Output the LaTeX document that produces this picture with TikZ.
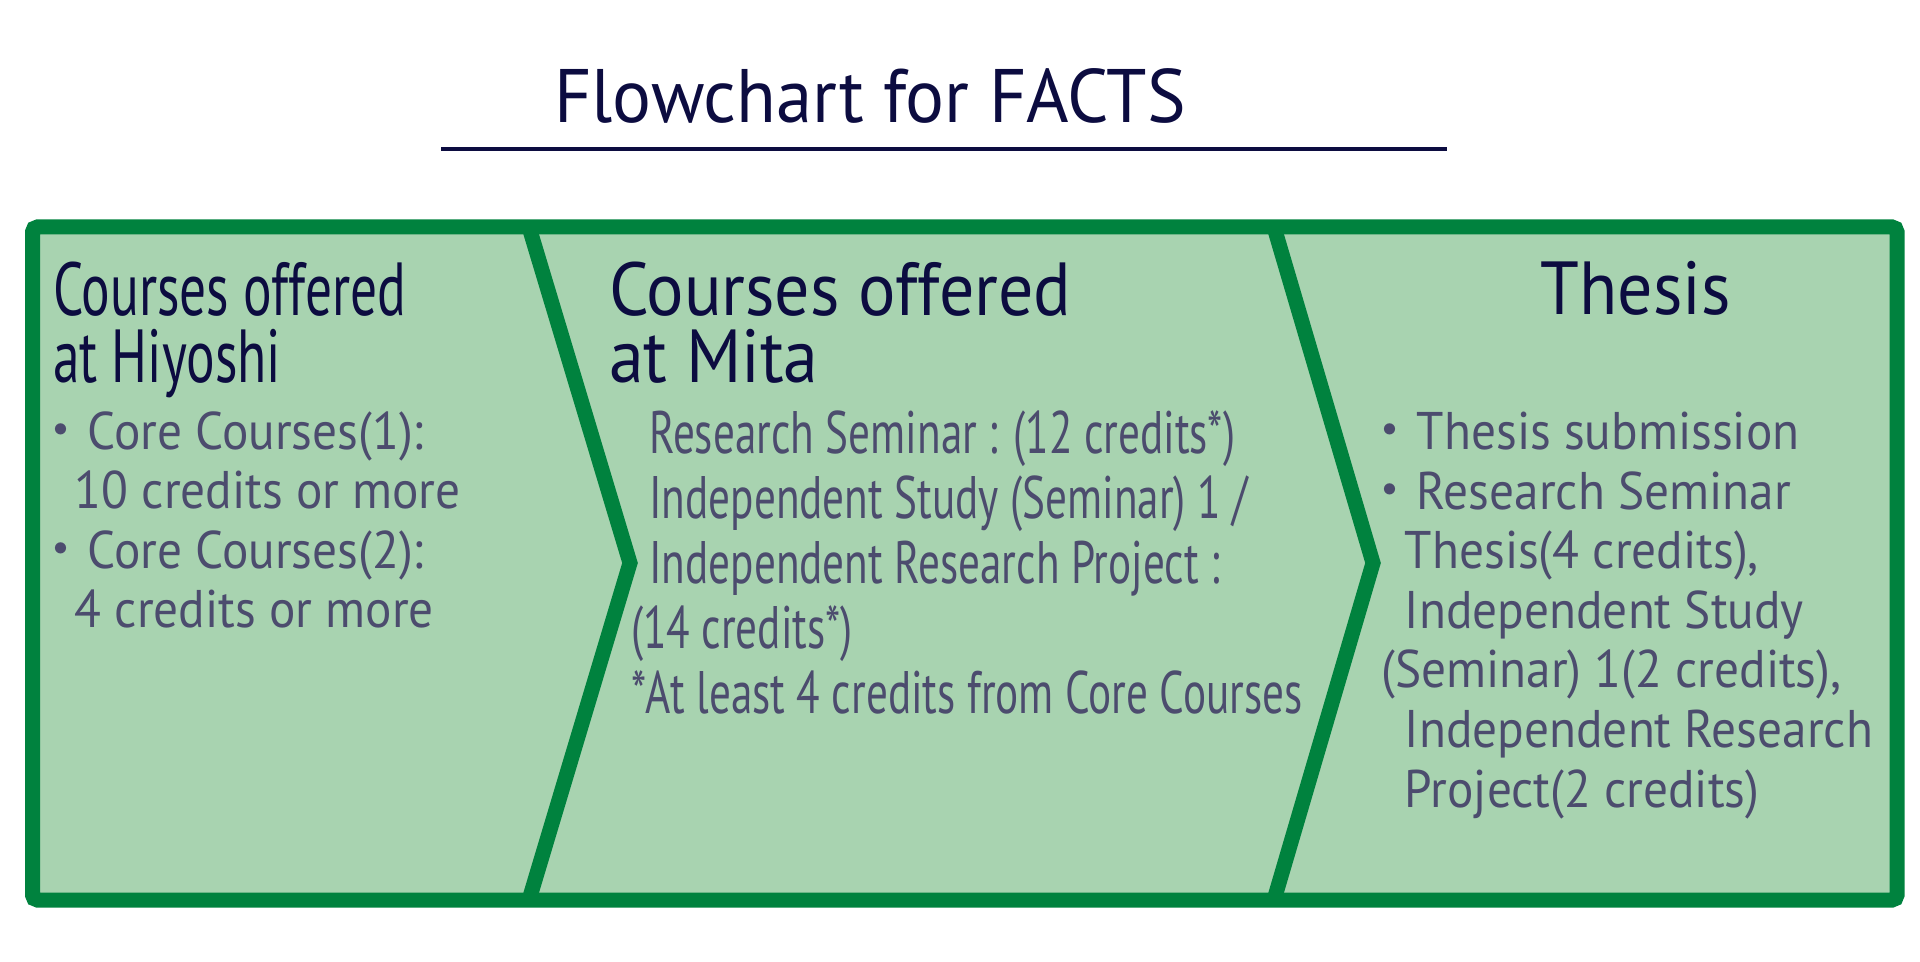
\documentclass[tikz,border=0pt]{standalone}
\usepackage{fontspec}
\setmainfont{PT Sans}[FakeStretch=0.93]
\newfontfamily\titlefont{PT Sans}[FakeStretch=0.96]
\newfontfamily\headcond{PT Sans}[FakeStretch=0.71]
\newfontfamily\bodycond{PT Sans}[FakeStretch=0.72]
\newfontfamily\cjk{Noto Sans CJK JP}
\usetikzlibrary{positioning}

\definecolor{factsgreen}{RGB}{0,130,62}
\definecolor{factsfill}{RGB}{168,211,176}
\definecolor{headnavy}{RGB}{12,12,64}
\definecolor{bodygray}{RGB}{76,76,110}
\newcommand{\mdot}{{\cjk ・}}

\begin{document}
\begin{tikzpicture}[x=0.5pt, y=-0.5pt,
    heading/.style={inner sep=0pt, anchor=base west, align=left, text=headnavy,
        font=\fontsize{37.6pt}{33pt}\selectfont},
    bodytext/.style={inner sep=0pt, anchor=base west, align=left, text=bodygray,
        font=\fontsize{26.5pt}{29.8pt}\selectfont},
    stage/.style={draw=factsgreen, line width=7.5pt}]
    \useasboundingbox (0,0) rectangle (1920,962);

    % title
    \node (title) [inner sep=0pt, anchor=base, text=headnavy, font=\titlefont\fontsize{37.9pt}{40pt}\selectfont] at (870,122.7) {Flowchart for FACTS};
    \draw [headnavy, line width=2.3pt] (441,149) -- (1447,149);

    % frame and the two chevrons
    \draw [stage, fill=factsfill, rounded corners=2.5pt] (32.5,227) rectangle (1897,900);
    \draw [stage, miter limit=10] (529,227) -- (630,563) -- (529,900);
    \draw [stage, miter limit=10] (1274,227) -- (1373,563) -- (1274,900);

    % Hiyoshi (base = last line)
    \node (hiyoshi) [heading, font=\headcond\fontsize{37.6pt}{33pt}\selectfont] at (52.7,382) {Courses offered\\at Hiyoshi};
    \node (hiyoshilist) [bodytext] at (34.5,627.8) {\mdot Core Courses(1):\\
        \hspace*{20pt}10 credits or more\\
        \mdot Core Courses(2):\\
        \hspace*{20pt}4 credits or more};

    % Mita
    \node (mita) [heading] at (608.6,382) {Courses offered\\at Mita};
    \node (mitalist) [bodytext, font=\bodycond\fontsize{30pt}{32.5pt}\selectfont] at (630.6,713) {\hspace*{9.2pt}Research Seminar : (12 credits*)\\
        \hspace*{9.2pt}Independent Study (Seminar) 1 /\\
        \hspace*{9.2pt}Independent Research Project :\\
        (14 credits*)\\
        *At least 4 credits from Core Courses};

    % Thesis
    \node (thesis) [heading, anchor=base] at (1636,315) {Thesis};
    \node (thesislist) [bodytext] at (1363.5,807) {\mdot Thesis submission\\
        \mdot Research Seminar\\
        \hspace*{20.5pt}Thesis(4 credits),\\
        \hspace*{20.5pt}Independent Study\\
        \hspace*{8.75pt}(Seminar) 1(2 credits),\\
        \hspace*{20.5pt}Independent Research\\
        \hspace*{20.5pt}Project(2 credits)};
\end{tikzpicture}
\end{document}
